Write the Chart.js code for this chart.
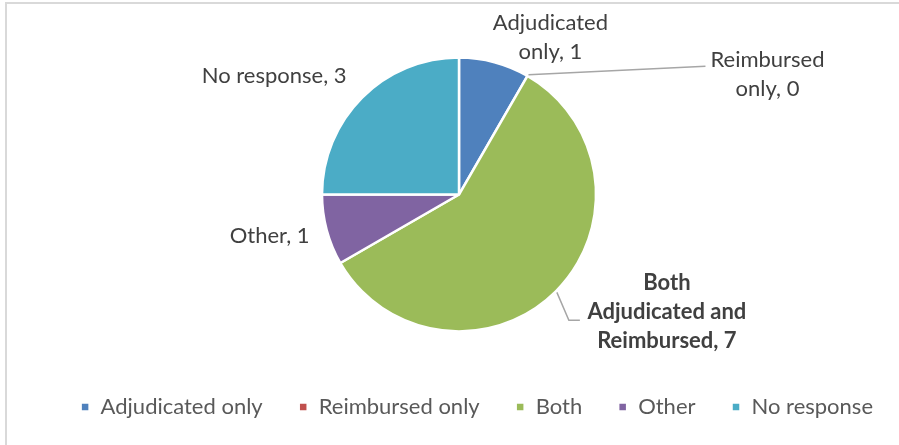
<!DOCTYPE html>
<html>
<head>
<meta charset="utf-8">
<script src="https://cdn.jsdelivr.net/npm/chart.js@4/dist/chart.umd.min.js"></script>
<style>
  html, body { margin: 0; padding: 0; background: #ffffff; }
  #wrap { width: 899px; height: 445px; position: relative; }
</style>
</head>
<body>
<div id="wrap"><canvas id="c" width="899" height="445"></canvas></div>
<script>
const categories = ['Adjudicated only', 'Reimbursed only', 'Both', 'Other', 'No response'];
const values = [1, 0, 7, 1, 3];
const pointLabels = [
  ['Adjudicated', 'only, 1'],
  ['Reimbursed', 'only, 0'],
  ['Both', 'Adjudicated and', 'Reimbursed, 7'],
  ['Other, 1'],
  ['No response, 3']
];
const colors = ['#4F81BD', '#C0504D', '#9BBB59', '#8064A2', '#4BACC6'];

const FONT = 'Lato';
const TEXT = '#404040';

// label placement relative to the slice's outer-edge midpoint
const labelOffsets = [
  { dx: 56, dy: -25, bold: false },
  { dx: 240, dy: -1, bold: false, leader: true },
  { dx: 111, dy: 21, bold: true, leader: true },
  { dx: -57, dy: 6, bold: false },
  { dx: -88, dy: -22, bold: false }
];

const frame = {
  id: 'frame',
  beforeDraw(chart) {
    const ctx = chart.ctx;
    ctx.save();
    ctx.fillStyle = '#ffffff';
    ctx.fillRect(0, 0, chart.width, chart.height);
    ctx.strokeStyle = '#d9d9d9';
    ctx.lineWidth = 2;
    ctx.beginPath();
    ctx.moveTo(6, chart.height);
    ctx.lineTo(6, 3);
    ctx.lineTo(chart.width, 3);
    ctx.stroke();
    ctx.restore();
  }
};

const sliceLabels = {
  id: 'sliceLabels',
  afterDatasetsDraw(chart) {
    const ctx = chart.ctx;
    const meta = chart.getDatasetMeta(0);
    ctx.save();
    meta.data.forEach((arc, i) => {
      const p = arc.getProps(['x', 'y', 'startAngle', 'endAngle', 'outerRadius'], true);
      const mid = (p.startAngle + p.endAngle) / 2;
      const ex = p.x + Math.cos(mid) * p.outerRadius;
      const ey = p.y + Math.sin(mid) * p.outerRadius;
      const o = labelOffsets[i];
      const lines = pointLabels[i];
      const lh = 29;
      const cx = ex + o.dx;
      const cy = ey + o.dy;
      ctx.font = (o.bold ? 'bold ' : '') + '22px ' + FONT;
      ctx.fillStyle = TEXT;
      ctx.textAlign = 'center';
      ctx.textBaseline = 'middle';
      const top = cy - (lines.length - 1) * lh / 2;
      let maxW = 0;
      lines.forEach((t, k) => {
        ctx.fillText(t, cx, top + k * lh);
        maxW = Math.max(maxW, ctx.measureText(t).width);
      });
      if (o.leader) {
        ctx.strokeStyle = '#a6a6a6';
        ctx.lineWidth = 1.5;
        ctx.beginPath();
        if (i === 1) {
          const sx = p.x + Math.cos(p.startAngle) * p.outerRadius;
          const sy = p.y + Math.sin(p.startAngle) * p.outerRadius;
          ctx.moveTo(sx + 1, sy - 1);
          ctx.lineTo(cx - maxW / 2 - 5, top + 6);
        } else {
          const sx = ex + 1, sy = ey + 1;
          ctx.moveTo(sx, sy);
          ctx.lineTo(sx + 12, cy + 8);
          ctx.lineTo(sx + 23, cy + 8);
        }
        ctx.stroke();
      }
    });
    ctx.restore();
  }
};

new Chart(document.getElementById('c'), {
  type: 'pie',
  data: {
    labels: categories,
    datasets: [{
      data: values,
      backgroundColor: colors,
      borderColor: '#ffffff',
      borderWidth: 2.5,
      radius: 137
    }]
  },
  options: {
    responsive: false,
    animation: false,
    layout: { padding: { left: 19, top: 29, right: -10, bottom: 17 } },
    plugins: {
      legend: {
        position: 'bottom',
        align: 'end',
        labels: {
          boxWidth: 9,
          boxHeight: 9,
          padding: 36,
          color: '#595959',
          font: { family: FONT, size: 22 }
        }
      },
      tooltip: { enabled: false }
    }
  },
  plugins: [frame, sliceLabels]
});
</script>
</body>
</html>
